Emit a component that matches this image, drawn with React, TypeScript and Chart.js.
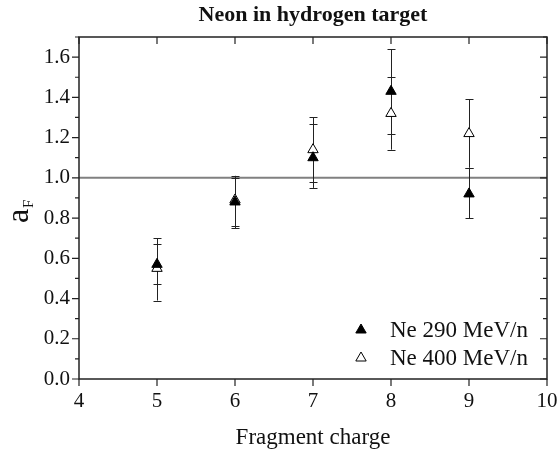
import React, { useEffect, useRef } from "react";
import { Chart, registerables } from "chart.js";

Chart.register(...registerables);

const charges = [5, 6, 7, 8, 9];
const ne290 = [0.57, 0.88, 1.1, 1.43, 0.92];
const ne290Low = [0.47, 0.75, 0.95, 1.22, 0.8];
const ne290High = [0.67, 1.0, 1.27, 1.64, 1.05];
const ne400 = [0.55, 0.89, 1.14, 1.32, 1.22];
const ne400Low = [0.39, 0.76, 0.98, 1.14, 1.05];
const ne400High = [0.7, 1.01, 1.3, 1.5, 1.39];

const xTicks = [4, 5, 6, 7, 8, 9, 10];
const yTicks = [0, 0.2, 0.4, 0.6, 0.8, 1.0, 1.2, 1.4, 1.6];
const yMinorTicks = [0.1, 0.3, 0.5, 0.7, 0.9, 1.1, 1.3, 1.5, 1.7];
const refLine = 1.0;

const titleText = "Neon in hydrogen target";
const xTitle = "Fragment charge";
const legendLabels = ["Ne 290 MeV/n", "Ne 400 MeV/n"];

const SERIF = "'Liberation Serif', 'DejaVu Serif', serif";

function triangle(ctx: CanvasRenderingContext2D, x: number, y: number, r: number, filled: boolean) {
  ctx.beginPath();
  ctx.moveTo(x, y - r);
  ctx.lineTo(x + 0.866 * r, y + 0.5 * r);
  ctx.lineTo(x - 0.866 * r, y + 0.5 * r);
  ctx.closePath();
  ctx.fillStyle = filled ? "#000" : "#fff";
  ctx.fill();
  ctx.strokeStyle = "#000";
  ctx.lineWidth = 1;
  ctx.stroke();
}

const decorPlugin = {
  id: "decor",
  beforeDatasetsDraw(chart: any) {
    const ctx = chart.ctx as CanvasRenderingContext2D;
    const xs = chart.scales.x;
    const ys = chart.scales.y;
    const area = chart.chartArea;
    ctx.save();
    ctx.strokeStyle = "#808080";
    ctx.lineWidth = 2;
    const yr = ys.getPixelForValue(refLine);
    ctx.beginPath();
    ctx.moveTo(area.left, yr);
    ctx.lineTo(area.right, yr);
    ctx.stroke();
    const bars = [
      [ne290Low, ne290High],
      [ne400Low, ne400High],
    ];
    ctx.strokeStyle = "#222";
    ctx.lineWidth = 1;
    bars.forEach(([lo, hi]) => {
      charges.forEach((c, i) => {
        const px = Math.round(xs.getPixelForValue(c)) + 0.5;
        const y1 = ys.getPixelForValue(lo[i]);
        const y2 = ys.getPixelForValue(hi[i]);
        ctx.beginPath();
        ctx.moveTo(px, y1);
        ctx.lineTo(px, y2);
        ctx.moveTo(px - 4, Math.round(y1) + 0.5);
        ctx.lineTo(px + 4, Math.round(y1) + 0.5);
        ctx.moveTo(px - 4, Math.round(y2) + 0.5);
        ctx.lineTo(px + 4, Math.round(y2) + 0.5);
        ctx.stroke();
      });
    });
    ctx.restore();
  },
  afterDraw(chart: any) {
    const ctx = chart.ctx as CanvasRenderingContext2D;
    const xs = chart.scales.x;
    const ys = chart.scales.y;
    const a = chart.chartArea;
    ctx.save();
    ctx.strokeStyle = "#222";
    ctx.lineWidth = 1.5;
    ctx.strokeRect(a.left, a.top, a.right - a.left, a.bottom - a.top);
    ctx.lineWidth = 1.2;
    ctx.beginPath();
    xTicks.forEach((t) => {
      const px = xs.getPixelForValue(t);
      ctx.moveTo(px, a.bottom);
      ctx.lineTo(px, a.bottom + 7);
      ctx.moveTo(px, a.top);
      ctx.lineTo(px, a.top + 7);
    });
    yTicks.forEach((t) => {
      const py = ys.getPixelForValue(t);
      ctx.moveTo(a.left, py);
      ctx.lineTo(a.left - 7, py);
      ctx.moveTo(a.right, py);
      ctx.lineTo(a.right - 7, py);
    });
    yMinorTicks.forEach((t) => {
      const py = ys.getPixelForValue(t);
      ctx.moveTo(a.left, py);
      ctx.lineTo(a.left - 4, py);
      ctx.moveTo(a.right, py);
      ctx.lineTo(a.right - 4, py);
    });
    ctx.stroke();

    ctx.fillStyle = "#111";
    ctx.font = `21px ${SERIF}`;
    ctx.textAlign = "center";
    ctx.textBaseline = "top";
    xTicks.forEach((t) => {
      ctx.fillText(String(t), xs.getPixelForValue(t), a.bottom + 12);
    });
    ctx.textAlign = "right";
    ctx.textBaseline = "middle";
    yTicks.forEach((t) => {
      ctx.fillText(t.toFixed(1), a.left - 9, ys.getPixelForValue(t));
    });

    ctx.font = `bold 22px ${SERIF}`;
    ctx.textAlign = "center";
    ctx.textBaseline = "alphabetic";
    ctx.fillText(titleText, (a.left + a.right) / 2, 21);

    ctx.font = `23px ${SERIF}`;
    ctx.fillText(xTitle, (a.left + a.right) / 2, 444);

    ctx.save();
    ctx.translate(28, (a.top + a.bottom) / 2 + 4);
    ctx.rotate(-Math.PI / 2);
    ctx.font = `32px ${SERIF}`;
    ctx.textAlign = "left";
    const wa = ctx.measureText("a").width;
    ctx.fillText("a", -wa / 2 - 4, 0);
    ctx.font = `15px ${SERIF}`;
    ctx.fillText("F", wa / 2 - 3, 5);
    ctx.restore();

    ctx.font = `23px ${SERIF}`;
    ctx.textAlign = "left";
    ctx.textBaseline = "middle";
    const rows = [330, 358];
    rows.forEach((ry, i) => {
      triangle(ctx, 361, ry, 6, i === 0);
      ctx.fillStyle = "#111";
      ctx.fillText(legendLabels[i], 390, ry + 1);
    });
    ctx.restore();
  },
};

export default function App() {
  const ref = useRef<HTMLCanvasElement>(null);
  useEffect(() => {
    if (!ref.current) return;
    const chart = new Chart(ref.current, {
      type: "scatter",
      data: {
        datasets: [
          {
            label: legendLabels[0],
            data: charges.map((c, i) => ({ x: c, y: ne290[i] })),
            pointStyle: "triangle",
            pointRadius: 6,
            pointBackgroundColor: "#000",
            pointBorderColor: "#000",
            pointBorderWidth: 1,
          },
          {
            label: legendLabels[1],
            data: charges.map((c, i) => ({ x: c, y: ne400[i] })),
            pointStyle: "triangle",
            pointRadius: 6,
            pointBackgroundColor: "#fff",
            pointBorderColor: "#000",
            pointBorderWidth: 1,
          },
        ],
      },
      options: {
        responsive: false,
        animation: false,
        devicePixelRatio: 1,
        layout: { padding: { left: 79, right: 10, top: 37, bottom: 71 } },
        plugins: { legend: { display: false }, title: { display: false }, tooltip: { enabled: false } },
        events: [],
        scales: {
          x: { type: "linear", min: 4, max: 10, display: false },
          y: { type: "linear", min: 0, max: 1.7, display: false },
        },
      },
      plugins: [decorPlugin],
    });
    return () => chart.destroy();
  }, []);
  return (
    <div style={{ position: "fixed", left: 0, top: 0, width: 557, height: 450, background: "#fff" }}>
      <canvas ref={ref} width={557} height={450} style={{ width: 557, height: 450 }} />
    </div>
  );
}
